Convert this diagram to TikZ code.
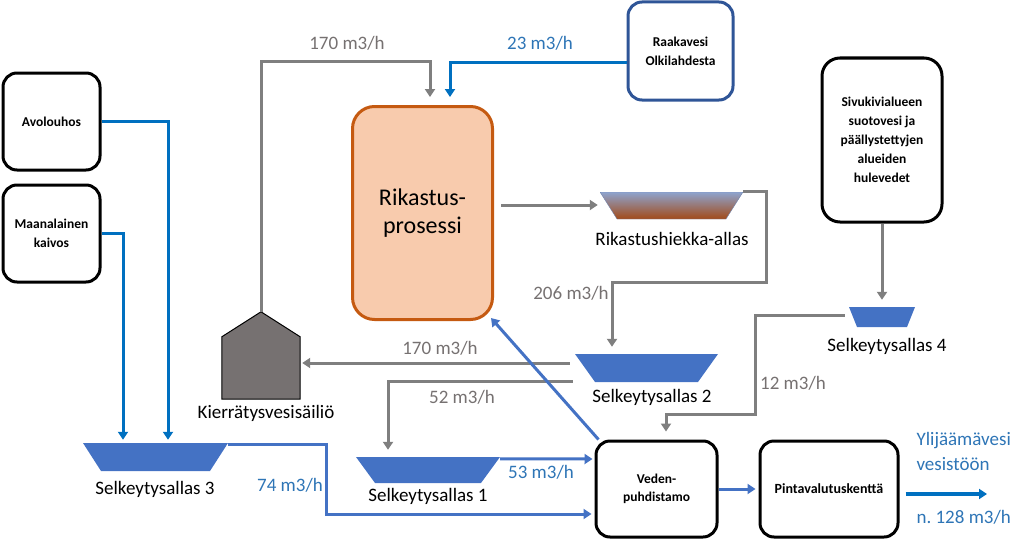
\documentclass[tikz,border=0pt]{standalone}
\usepackage{fontspec}
\setmainfont{Carlito}
\usepackage{xcolor}
\usetikzlibrary{arrows.meta,positioning,calc}

\definecolor{flowgray}{HTML}{7F7F7F}
\definecolor{labelgray}{HTML}{767171}
\definecolor{flowblue}{HTML}{4472C4}
\definecolor{feedblue}{HTML}{0070C0}
\definecolor{labelblue}{HTML}{2E75B6}
\definecolor{basinblue}{HTML}{4472C4}
\definecolor{tankgray}{HTML}{767171}
\definecolor{procfill}{HTML}{F8CBAD}
\definecolor{procdraw}{HTML}{C55A11}
\definecolor{sourcedraw}{HTML}{2F5597}
\definecolor{tailtop}{HTML}{8EA4CF}
\definecolor{tailbot}{HTML}{A24A18}
\definecolor{tailedge}{HTML}{6F84AE}

\begin{document}
\begin{tikzpicture}[
    x=1pt, y=-1pt,
    site/.style={rectangle, draw=black, line width=3pt, rounded corners=14pt, align=center, inner sep=0, font=\bfseries\fontsize{13.5}{19}\selectfont},
    proc/.style={rectangle, draw=procdraw, fill=procfill, line width=3pt, rounded corners=22pt, align=center, minimum width=140pt, minimum height=213pt, font=\fontsize{24}{28}\selectfont},
    basin/.style={inner sep=0, path picture={\fill[basinblue] (path picture bounding box.north west) -- (path picture bounding box.north east) -- ([xshift=-#1]path picture bounding box.south east) -- ([xshift=#1]path picture bounding box.south west) -- cycle;}},
    tailings/.style={inner sep=0, path picture={\shade[top color=tailtop, bottom color=tailbot, draw=tailedge] (path picture bounding box.north west) -- (path picture bounding box.north east) -- ([xshift=-#1]path picture bounding box.south east) -- ([xshift=#1]path picture bounding box.south west) -- cycle;}},
    gflow/.style={draw=flowgray, line width=3pt, -{Triangle[length=8pt,width=10pt]}},
    bflow/.style={draw=flowblue, line width=3pt, -{Triangle[length=8pt,width=10pt]}},
    fflow/.style={draw=feedblue, line width=3pt, -{Triangle[length=8pt,width=10pt]}},
    glbl/.style={text=labelgray, font=\fontsize{19}{25}\selectfont},
    blbl/.style={text=labelblue, font=\fontsize{19}{25}\selectfont},
    klbl/.style={text=black, font=\fontsize{19}{25}\selectfont}
]
\useasboundingbox (0,0) rectangle (1024,543);

\node[site, minimum width=97pt, minimum height=97pt] (avo) at (51.5,121.5) {Avolouhos};
\node[site, minimum width=97pt, minimum height=97pt] (maa) at (51.5,233.5) {Maanalainen\\kaivos};
\node[site, draw=sourcedraw, minimum width=105pt, minimum height=98pt] (raaka) at (680.5,51) {Raakavesi\\Olkilahdesta};
\node[site, rounded corners=18pt, minimum width=120pt, minimum height=164pt] (sivu) at (882,140) {Sivukivialueen\\suotovesi ja\\päällystettyjen\\alueiden\\hulevedet};
\node[proc] (rik) at (422.5,213) {Rikastus-\\prosessi};
\node[site, minimum width=121pt, minimum height=96pt, font=\bfseries\fontsize{13.5}{18}\selectfont] (veden) at (656.5,489) {Veden-\\puhdistamo};
\node[site, minimum width=138pt, minimum height=96pt, font=\bfseries\fontsize{14}{19}\selectfont] (pinta) at (829,489) {Pintavalutuskenttä};

\node[tailings=17pt, minimum width=143pt, minimum height=27pt] (hiekka) at (671.5,205.5) {};
\node[basin=20pt, minimum width=143pt, minimum height=28pt] (sel2) at (646.5,368) {};
\node[basin=8pt, minimum width=66pt, minimum height=20pt] (sel4) at (882,317) {};
\node[basin=18pt, minimum width=145pt, minimum height=28pt] (sel3) at (155.5,457) {};
\node[basin=19pt, minimum width=144pt, minimum height=26pt] (sel1) at (428,470) {};

\node[minimum width=78pt, minimum height=87pt, inner sep=0] (kier) at (261,355.5) {};
\draw[fill=tankgray, line width=1pt] (kier.south west) -- (kier.south east) -- ([yshift=-25pt]kier.north east) -- (kier.north) -- ([yshift=-25pt]kier.north west) -- cycle;

\coordinate (sea) at (987,494);

\node[glbl] (l170a) at (347,43) {170 m3/h};
\node[blbl] (l23) at (540,43) {23 m3/h};
\node[klbl] (lhiekka) at (672,239) {Rikastushiekka-allas};
\node[glbl] (l206) at (571,293) {206 m3/h};
\node[klbl] (lsel4) at (887,346) {Selkeytysallas 4};
\node[glbl] (l170b) at (440,348) {170 m3/h};
\node[klbl] (lsel2) at (652,397) {Selkeytysallas 2};
\node[glbl] (l52) at (462,397) {52 m3/h};
\node[glbl] (l12) at (793,383) {12 m3/h};
\node[klbl] (lkier) at (266,413) {Kierrätysvesisäiliö};
\node[klbl] (lsel3) at (155,489) {Selkeytysallas 3};
\node[blbl] (l74) at (290,485) {74 m3/h};
\node[klbl] (lsel1) at (428,496) {Selkeytysallas 1};
\node[blbl] (l53) at (541,472) {53 m3/h};
\node[blbl, align=left, anchor=west] (lout) at (913,451) {Ylijäämävesi\\vesistöön};
\node[blbl, anchor=west] (l128) at (913,517) {n.\ 128 m3/h};

\draw[gflow] (kier.north) -- ++(0,-250) -| ([xshift=7.5pt,yshift=8pt]rik.north);
\draw[fflow] ([yshift=-11pt]raaka.west) -| ([xshift=27.5pt,yshift=8pt]rik.north);
\draw[fflow] (avo.east) -| ([xshift=12.5pt,yshift=3pt]sel3.north);
\draw[fflow] (maa.east) -| ([xshift=-32.5pt,yshift=3pt]sel3.north);
\draw[gflow] ([xshift=7pt,yshift=8pt]rik.east) -- ([xshift=-2pt,yshift=0.5pt]hiekka.west);
\draw[gflow] (hiekka.north east) -- ++(23,0) -- ++(0,91) -| ([xshift=-34.5pt,yshift=7pt]sel2.north);
\draw[gflow] ([xshift=-5pt,yshift=5pt]sel2.west) -- ([xshift=2pt,yshift=-7.5pt]kier.east);
\draw[gflow] ([xshift=-2pt,yshift=-13pt]sel2.west) -| ([xshift=-40pt,yshift=7pt]sel1.north);
\draw[gflow] (sivu.south) -- ([yshift=7pt]sel4.north);
\draw[gflow] ([xshift=-4pt,yshift=2pt]sel4.west) -- ++(-89,0) -- ++(0,99) -| ([xshift=9.5pt,yshift=8pt]veden.north);
\draw[bflow] ([yshift=-2pt]sel3.north east) -- ++(98,0) |- ([xshift=-3pt,yshift=-25pt]veden.west);
\draw[bflow] ([yshift=-2pt]sel1.north east) -- ([xshift=-2pt,yshift=30pt]veden.west);
\draw[bflow] ([xshift=4pt]veden.north west) -- ([xshift=-3pt,yshift=3pt]rik.south east);
\draw[bflow] (veden.east) -- ([xshift=-3pt]pinta.west);
\draw[fflow, line width=4pt] ([xshift=6pt,yshift=-5pt]pinta.east) -- (sea);

\end{tikzpicture}
\end{document}
